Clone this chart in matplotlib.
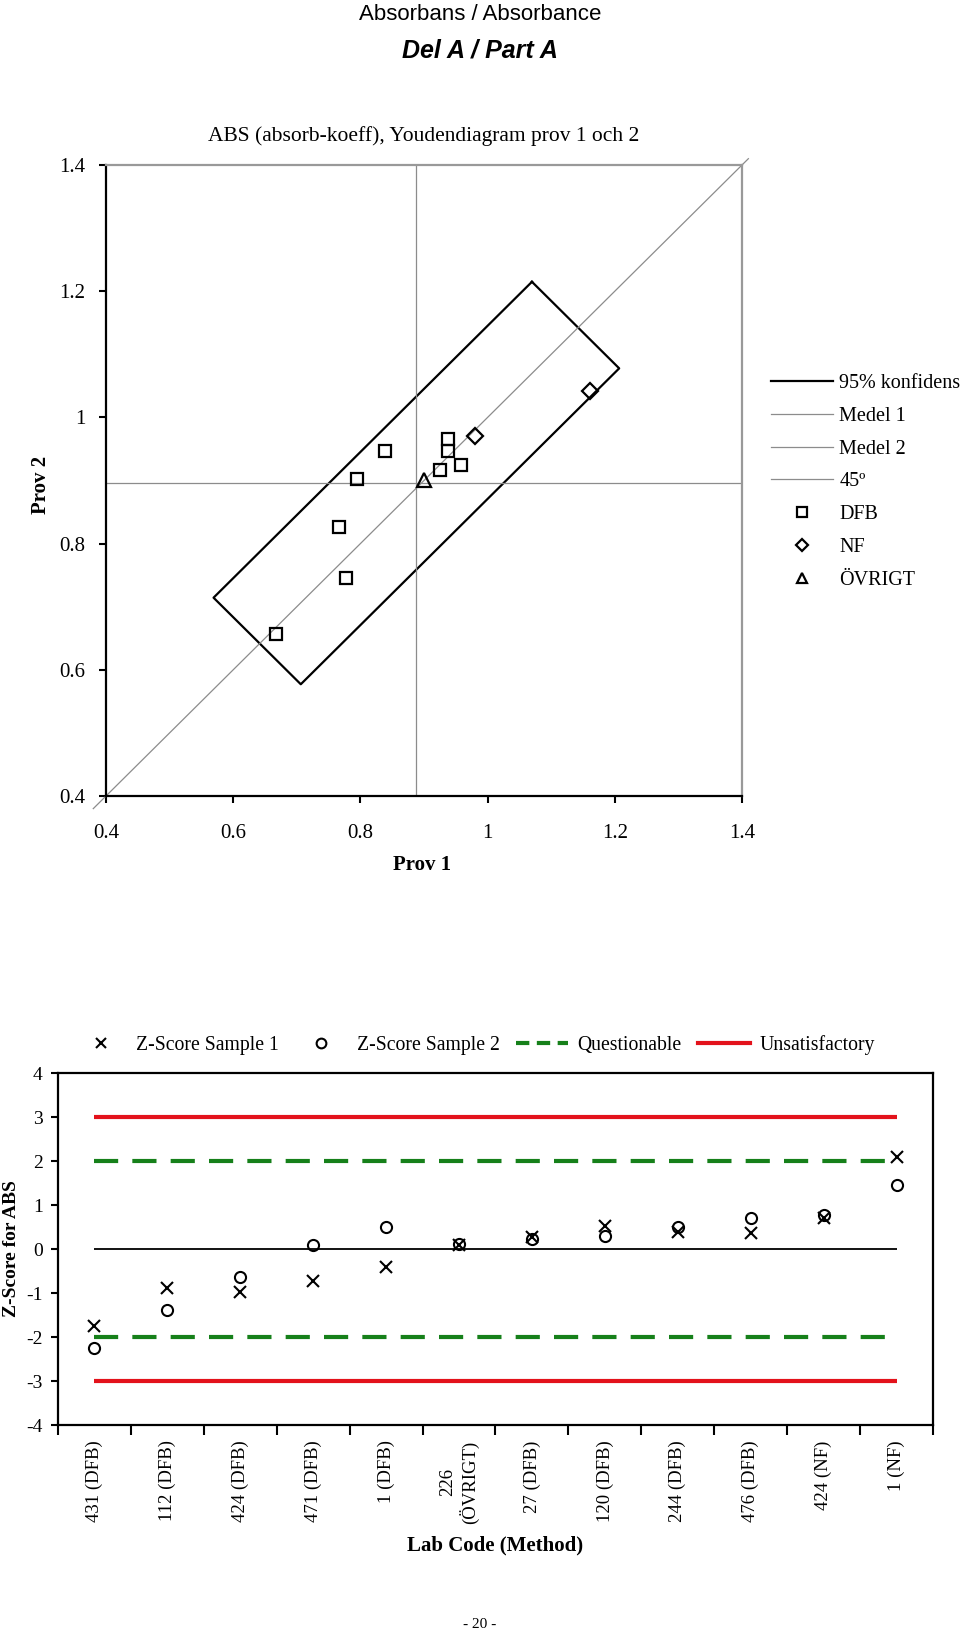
import numpy as np
import matplotlib
matplotlib.use("Agg")
import matplotlib.pyplot as plt
from matplotlib.lines import Line2D

plt.rcParams['font.family'] = ['Liberation Serif', 'DejaVu Serif']
plt.rcParams['axes.unicode_minus'] = False

# Youden diagram data (prov 1, prov 2)
dfb_prov1 = [0.667, 0.778, 0.767, 0.795, 0.838, 0.925, 0.938, 0.938, 0.958]
dfb_prov2 = [0.656, 0.746, 0.826, 0.902, 0.946, 0.916, 0.965, 0.947, 0.924]
nf_prov1 = [0.980, 1.161]
nf_prov2 = [0.971, 1.042]
ovr_prov1 = [0.900]
ovr_prov2 = [0.900]
medel1 = 0.888
medel2 = 0.896
conf_half_len = 0.354
conf_half_wid = 0.097

# Z-score data
labs = ['431 (DFB)', '112 (DFB)', '424 (DFB)', '471 (DFB)', '1 (DFB)',
        '226\n(ÖVRIGT)', '27 (DFB)', '120 (DFB)', '244 (DFB)', '476 (DFB)',
        '424 (NF)', '1 (NF)']
z_sample1 = [-1.75, -0.88, -0.97, -0.72, -0.40, 0.08, 0.28, 0.53, 0.38, 0.37, 0.70, 2.10]
z_sample2 = [-2.26, -1.39, -0.64, 0.10, 0.50, 0.11, 0.22, 0.30, 0.50, 0.71, 0.77, 1.45]

fig = plt.figure(figsize=(9.6, 16.32), dpi=100)

fig.text(0.5, 1 - 15 / 1632, 'Absorbans / Absorbance', ha='center', va='center',
         fontsize=16, family='Liberation Sans')
fig.text(0.5, 1 - 51 / 1632, 'Del A / Part A', ha='center', va='center',
         fontsize=18, family='Liberation Sans', weight='bold', style='italic')
fig.text(0.5, 1 - 1624 / 1632, '- 20 -', ha='center', va='center', fontsize=11)

# ---- Youden diagram ----
ax = fig.add_axes([106 / 960, 1 - 796 / 1632, 636 / 960, 631 / 1632])
gray = '#8c8c8c'

u = np.array([1, 1]) / np.sqrt(2)
v = np.array([-1, 1]) / np.sqrt(2)
c = np.array([medel1, medel2])
corners = [c + conf_half_len * u + conf_half_wid * v,
           c + conf_half_len * u - conf_half_wid * v,
           c - conf_half_len * u - conf_half_wid * v,
           c - conf_half_len * u + conf_half_wid * v]
corners.append(corners[0])
corners = np.array(corners)
ax.plot(corners[:, 0], corners[:, 1], color='black', lw=1.6, label='95% konfidens')
ax.axvline(medel1, color=gray, lw=0.9, label='Medel 1')
ax.axhline(medel2, color=gray, lw=0.9, label='Medel 2')
ax.plot([0.38, 1.41], [0.38, 1.41], color=gray, lw=0.9, clip_on=False, label='45º')
ax.plot(dfb_prov1, dfb_prov2, ls='none', marker='s', ms=9, mfc='none', mec='black',
        mew=1.6, label='DFB')
ax.plot(nf_prov1, nf_prov2, ls='none', marker='D', ms=8, mfc='none', mec='black',
        mew=1.6, label='NF')
ax.plot(ovr_prov1, ovr_prov2, ls='none', marker='^', ms=10, mfc='none', mec='black',
        mew=1.6, label='ÖVRIGT')

ax.set_xlim(0.4, 1.4)
ax.set_ylim(0.4, 1.4)
ax.set_xticks([0.4, 0.6, 0.8, 1.0, 1.2, 1.4], labels=['0.4', '0.6', '0.8', '1', '1.2', '1.4'])
ax.set_yticks([0.4, 0.6, 0.8, 1.0, 1.2, 1.4], labels=['0.4', '0.6', '0.8', '1', '1.2', '1.4'])
ax.tick_params(axis='x', direction='out', length=5, width=1.5, labelsize=15, pad=15)
ax.tick_params(axis='y', direction='out', length=5, width=1.5, labelsize=15, pad=10)
for s in ['left', 'bottom']:
    ax.spines[s].set_linewidth(1.6)
    ax.spines[s].set_color('black')
for s in ['top', 'right']:
    ax.spines[s].set_linewidth(1.6)
    ax.spines[s].set_color('#999999')
ax.set_title('ABS (absorb-koeff), Youdendiagram prov 1 och 2', fontsize=15.5, pad=17)
ax.set_xlabel('Prov 1', fontsize=15, weight='bold')
ax.set_ylabel('Prov 2', fontsize=15, weight='bold')
ax.xaxis.set_label_coords(0.497, -0.093)
ax.yaxis.set_label_coords(-0.086, 0.493)
ax.legend(loc='upper left', bbox_to_anchor=(771 / 960, 1 - 374 / 1632),
          bbox_transform=fig.transFigure, frameon=False, fontsize=14.5,
          handlelength=3.1, handletextpad=0.3, labelspacing=0.68,
          borderpad=0, borderaxespad=0, markerscale=0.75)

# ---- Z-score chart ----
ax2 = fig.add_axes([58 / 960, 1 - 1425 / 1632, 875 / 960, 352 / 1632])
x = np.arange(len(labs))
red = '#e3121b'
green = '#16801a'
ax2.hlines([3, -3], x[0], x[-1], color=red, lw=3)
ax2.hlines([0], x[0], x[-1], color='black', lw=1.3)
for yv in [2, -2]:
    ax2.plot([x[0], x[-1]], [yv, yv], color=green, lw=3, dashes=(5.8, 3.4))
ax2.plot(x, z_sample1, ls='none', marker='x', ms=8, mec='black', mew=1.5)
ax2.plot(x, z_sample2, ls='none', marker='o', ms=8, mfc='none', mec='black', mew=1.5)

ax2.set_xlim(-0.5, len(labs) - 0.5)
ax2.set_ylim(-4, 4)
ax2.set_yticks(range(-4, 5))
ax2.set_xticks(np.arange(-0.5, len(labs), 1), labels=[])
ax2.set_xticks(x, labels=labs, minor=True)
ax2.tick_params(axis='x', which='major', direction='out', length=7, width=1.5)
ax2.tick_params(axis='x', which='minor', length=0, labelsize=13.5, labelrotation=90, pad=11)
ax2.tick_params(axis='y', direction='out', length=5, width=1.5, labelsize=14, pad=6)
for s in ax2.spines.values():
    s.set_linewidth(1.6)
ax2.set_ylabel('Z-Score for ABS', fontsize=14, weight='bold')
ax2.yaxis.set_label_coords(-0.043, 0.5)
ax2.set_xlabel('Lab Code (Method)', fontsize=15, weight='bold')
ax2.xaxis.set_label_coords(0.5, -0.315)

handles = [Line2D([], [], ls='none', marker='x', ms=7, mec='black', mew=1.5),
           Line2D([], [], ls='none', marker='o', ms=7, mfc='none', mec='black', mew=1.5),
           Line2D([], [], color=green, lw=3, dashes=(3.2, 1.8)),
           Line2D([], [], color=red, lw=3)]
ax2.legend(handles, ['Z-Score Sample 1', 'Z-Score Sample 2', 'Questionable', 'Unsatisfactory'],
           loc='center', bbox_to_anchor=(475 / 960, 1 - 1045 / 1632),
           bbox_transform=fig.transFigure, ncol=4, frameon=False, fontsize=14.2,
           handlelength=2.6, handletextpad=0.5, columnspacing=0.85,
           borderpad=0, borderaxespad=0)

fig.savefig('out.png', dpi=100)
